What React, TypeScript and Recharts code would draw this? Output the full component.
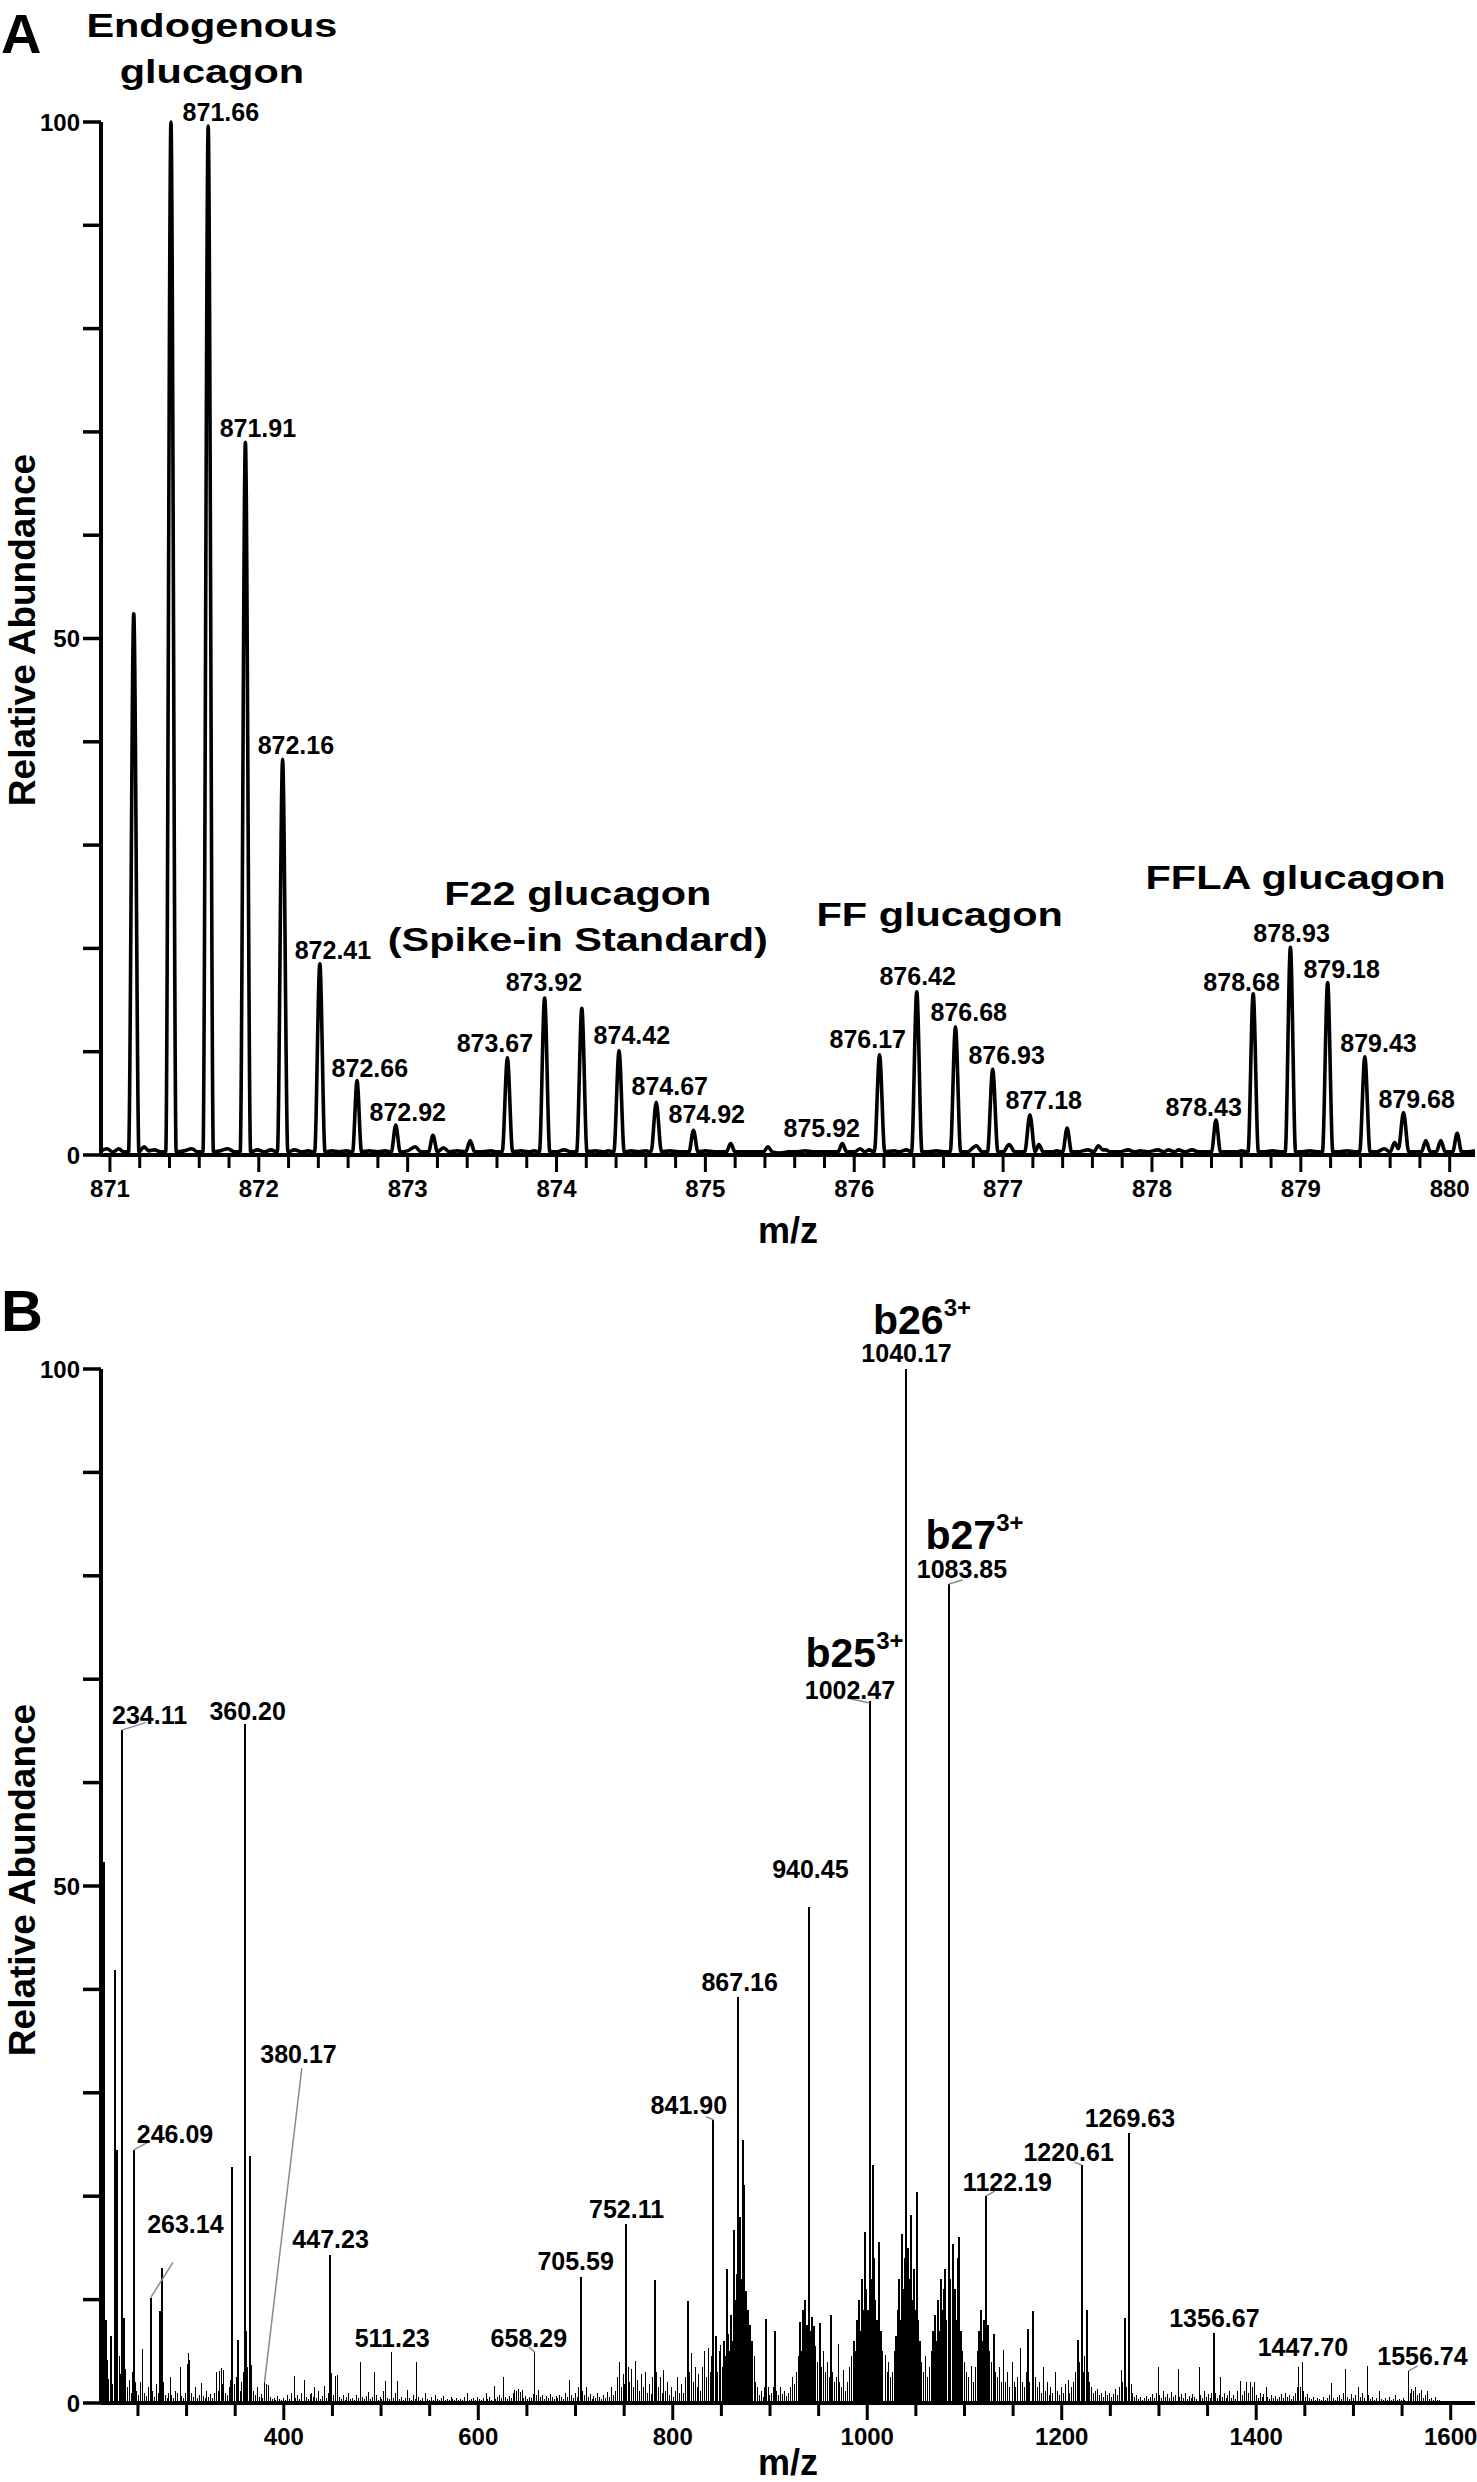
import React from 'react';
import { ComposedChart, Line, Bar, XAxis, YAxis, ReferenceDot, ReferenceLine } from 'recharts';

const FONT = '"Liberation Sans", Arial, Helvetica, sans-serif';

// ---------- Panel A: MS1 profile (m/z, relative abundance) ----------
const profileA: [number, number][] = [
  [870.94, 0.4], [870.98, 0.6], [871.02, 0.3], [871.06, 0.6], [871.09, 0.3],
  [871.125, 0.3], [871.16, 52.4], [871.195, 0.3], [871.23, 0.8], [871.26, 0.4], [871.3, 0.5], [871.34, 0.3],
  [871.375, 0.3], [871.41, 100], [871.445, 0.3], [871.5, 0.4], [871.55, 0.6], [871.59, 0.3],
  [871.625, 0.3], [871.66, 99.6], [871.695, 0.3], [871.74, 0.4], [871.79, 0.6], [871.84, 0.3],
  [871.875, 0.3], [871.91, 69.0], [871.945, 0.3], [871.99, 0.5], [872.04, 0.3], [872.08, 0.5],
  [872.125, 0.3], [872.16, 38.3], [872.195, 0.3], [872.24, 0.5], [872.29, 0.3], [872.33, 0.4],
  [872.375, 0.3], [872.41, 18.5], [872.445, 0.3], [872.49, 0.4], [872.54, 0.3], [872.59, 0.4],
  [872.63, 0.3], [872.66, 7.2], [872.69, 0.3], [872.74, 0.4], [872.8, 0.3], [872.85, 0.4],
  [872.89, 0.3], [872.92, 2.9], [872.95, 0.3], [873.0, 0.4], [873.05, 0.8], [873.09, 0.3],
  [873.14, 0.3], [873.17, 1.9], [873.2, 0.3], [873.24, 0.7], [873.28, 0.3], [873.33, 0.4],
  [873.39, 0.3], [873.42, 1.4], [873.45, 0.3], [873.5, 0.3], [873.56, 0.4], [873.6, 0.3],
  [873.635, 0.3], [873.67, 9.4], [873.705, 0.3], [873.76, 0.4], [873.81, 0.3], [873.85, 0.4],
  [873.885, 0.3], [873.92, 15.2], [873.955, 0.3], [874.0, 0.3], [874.05, 0.5], [874.1, 0.3],
  [874.135, 0.3], [874.17, 14.2], [874.205, 0.3], [874.26, 0.4], [874.31, 0.3], [874.35, 0.4],
  [874.385, 0.3], [874.42, 10.1], [874.455, 0.3], [874.5, 0.4], [874.55, 0.3], [874.6, 0.4],
  [874.635, 0.3], [874.67, 5.1], [874.705, 0.3], [874.76, 0.4], [874.82, 0.3], [874.86, 0.3],
  [874.89, 0.3], [874.92, 2.4], [874.95, 0.3], [875.0, 0.4], [875.06, 0.3], [875.1, 0.3],
  [875.14, 0.3], [875.17, 1.1], [875.2, 0.3], [875.26, 0.3], [875.32, 0.3], [875.37, 0.3],
  [875.39, 0.3], [875.42, 0.8], [875.45, 0.3], [875.5, 0.2], [875.56, 0.3], [875.62, 0.3],
  [875.67, 0.4], [875.72, 0.3], [875.8, 0.3], [875.85, 0.3],
  [875.89, 0.3], [875.92, 1.1], [875.95, 0.3], [876.0, 0.3], [876.04, 0.6], [876.07, 0.3], [876.1, 0.5],
  [876.135, 0.3], [876.17, 9.7], [876.205, 0.3], [876.27, 0.4], [876.3, 0.3], [876.35, 0.5],
  [876.385, 0.3], [876.42, 15.8], [876.455, 0.3], [876.5, 0.3], [876.55, 0.4], [876.6, 0.3],
  [876.645, 0.3], [876.68, 12.4], [876.715, 0.3], [876.76, 0.3], [876.82, 0.9], [876.86, 0.3],
  [876.895, 0.3], [876.93, 8.3], [876.965, 0.3], [877.0, 0.3], [877.04, 1.0], [877.08, 0.3],
  [877.145, 0.3], [877.18, 3.9], [877.215, 0.3], [877.24, 1.0], [877.27, 0.3], [877.33, 0.3], [877.36, 0.4],
  [877.4, 0.3], [877.43, 2.6], [877.46, 0.3], [877.5, 0.3], [877.57, 0.5], [877.61, 0.3],
  [877.64, 0.9], [877.67, 0.5], [877.69, 0.5], [877.72, 0.3], [877.78, 0.3], [877.84, 0.5],
  [877.88, 0.3], [877.92, 0.4], [877.97, 0.3], [878.04, 0.5], [878.08, 0.3], [878.11, 0.5],
  [878.15, 0.3], [878.18, 0.5], [878.22, 0.3], [878.27, 0.5], [878.31, 0.3], [878.36, 0.3],
  [878.4, 0.3], [878.43, 3.4], [878.46, 0.3], [878.52, 0.3], [878.57, 0.3], [878.6, 0.4],
  [878.645, 0.3], [878.68, 15.6], [878.715, 0.3], [878.76, 0.3], [878.81, 0.4], [878.86, 0.3],
  [878.895, 0.3], [878.93, 20.1], [878.965, 0.3], [879.01, 0.3], [879.06, 0.4], [879.11, 0.3],
  [879.145, 0.3], [879.18, 16.7], [879.215, 0.3], [879.26, 0.3], [879.31, 0.4], [879.36, 0.3],
  [879.395, 0.3], [879.43, 9.5], [879.465, 0.3], [879.51, 0.3], [879.56, 0.6], [879.6, 0.3],
  [879.63, 1.2], [879.655, 0.6], [879.69, 4.1], [879.725, 0.3], [879.77, 0.3], [879.81, 0.3],
  [879.84, 1.4], [879.87, 0.3], [879.91, 0.3], [879.94, 1.4], [879.97, 0.3], [880.0, 0.3],
  [880.02, 0.3], [880.05, 2.1], [880.08, 0.3], [880.12, 0.3], [880.17, 0.4],
];

// label text, label centre m/z, label centre abundance
const peakLabelsA: [string, number, number][] = [
  ['871.66', 871.745, 101.0], ['871.91', 871.994, 70.4], ['872.16', 872.249, 39.7],
  ['872.41', 872.498, 19.8], ['872.66', 872.746, 8.4], ['872.92', 873.001, 4.2],
  ['873.67', 873.586, 10.8], ['873.92', 873.915, 16.7], ['874.42', 874.506, 11.6],
  ['874.67', 874.761, 6.7], ['874.92', 875.009, 4.0], ['875.92', 875.782, 2.6],
  ['876.17', 876.091, 11.2], ['876.42', 876.426, 17.3], ['876.68', 876.769, 13.8],
  ['876.93', 877.024, 9.7], ['877.18', 877.273, 5.3], ['878.43', 878.347, 4.6],
  ['878.68', 878.602, 16.7], ['878.93', 878.938, 21.5], ['879.18', 879.274, 18.0],
  ['879.43', 879.522, 10.8], ['879.68', 879.778, 5.4],
];

const groupTitlesA: { lines: string[]; mz: number; ab: number }[] = [
  { lines: ['Endogenous', 'glucagon'], mz: 871.685, ab: 109.4 },
  { lines: ['F22 glucagon', '(Spike-in Standard)'], mz: 874.143, ab: 25.3 },
  { lines: ['FF glucagon'], mz: 876.574, ab: 23.3 },
  { lines: ['FFLA glucagon'], mz: 878.965, ab: 26.9 },
];

// ---------- Panel B: MS2 centroid spectrum ----------
const sticksB: [number, number][] = [
  [213, 3.0], [215.4, 52.3], [217, 8.0], [218.6, 4.2], [220, 2.3], [222, 6.5], [224, 1.8], [226, 41.9],
  [227.5, 3.7], [229, 24.5], [231, 4.5], [232.5, 2.8], [234.11, 65.1], [235.5, 8.2], [237, 3.3], [239, 1.5],
  [241, 2.2], [243, 1.0], [244.5, 3.0], [246.09, 24.5], [247.5, 2.0], [249, 1.2], [251, 0.8], [253, 2.0],
  [255.2, 5.2], [257, 1.0], [259, 0.7], [261, 1.5], [263.14, 10.2], [265, 1.2], [267, 0.6], [269, 1.8],
  [271, 1.0], [272.7, 8.9], [274.8, 13.1], [276.5, 2.0], [278, 0.8], [280, 0.5], [281.5, 1.0], [283, 2.5],
  [285, 0.8], [287, 0.5], [289, 1.2], [291, 1.0], [293.3, 3.5], [295, 0.7], [297, 0.5], [299, 1.0],
  [300.5, 3.8], [302, 4.8], [303.5, 4.2], [305, 1.0], [307, 0.6], [309, 1.5], [311, 0.5], [313, 0.8],
  [315, 1.9], [317, 0.7], [319, 0.5], [321, 1.2], [323, 0.6], [325, 0.9], [327, 0.5], [329, 1.0],
  [331, 3.0], [332.5, 1.2], [334, 3.1], [335.5, 3.4], [337, 1.8], [338.5, 3.2], [340, 1.0], [342, 0.8],
  [344, 1.5], [345.5, 2.2], [347, 22.8], [349, 1.8], [351, 2.5], [353.4, 6.1], [355, 1.2], [357, 2.0],
  [358.5, 3.0], [360.2, 65.7], [361.5, 7.0], [363, 3.5], [365.6, 23.9], [367, 3.7], [369, 1.2], [371, 0.8],
  [373, 1.5], [375, 0.6], [377, 0.9], [378.5, 0.5], [380.17, 2.0], [382, 1.8], [384, 1.7], [386, 0.6],
  [388, 0.4], [390, 0.5], [392, 0.3], [394, 0.7], [396, 0.4], [398, 0.3],
  [400, 0.5], [402, 0.3], [404, 0.8], [406, 0.4], [408, 1.0], [410.6, 2.6], [412, 0.5], [414, 0.8],
  [416, 0.4], [418, 1.0], [421, 2.2], [423, 0.6], [425, 0.4], [427, 0.9], [429, 1.0], [431, 0.6],
  [432, 1.5], [434, 0.5], [436, 1.2], [438, 0.4], [440, 0.7], [442, 1.6], [444, 0.5], [446, 1.0],
  [447.23, 14.3], [449, 2.9], [451, 0.8], [453, 2.6], [455, 2.7], [457, 0.6], [459, 0.4], [461, 0.8],
  [463, 0.3], [465, 0.6], [467, 1.0], [469, 0.4], [471, 0.5], [473, 0.3], [475, 0.8], [477, 0.5],
  [479, 4.0], [481, 0.6], [483, 0.4], [485, 0.7], [487, 1.1], [489, 0.4], [491, 0.6], [493.7, 3.0],
  [495, 0.8], [497, 0.3], [499, 0.6], [501, 0.4], [503, 1.2], [505, 2.1], [507, 0.5], [509, 0.4],
  [511.23, 4.9], [513, 0.5], [515, 1.0], [517, 2.1], [519, 0.4], [521, 0.6], [523, 0.3], [525, 0.5],
  [527, 1.3], [529, 0.5], [531, 0.3], [533, 0.8], [535, 0.4], [536.9, 4.0], [539, 0.6], [541, 0.3],
  [543, 0.5], [546, 1.0], [548, 0.4], [550, 0.3], [552, 0.6], [554, 0.3], [556, 0.8], [558, 0.4],
  [560, 0.3], [562, 0.5], [564, 0.7], [566, 0.3], [568, 0.4], [570, 0.3], [572, 0.6], [574, 0.4],
  [576, 0.3], [578, 0.5], [580, 0.3], [582, 0.4], [584, 0.3], [586, 0.6], [589, 1.0], [591, 0.3],
  [593, 0.4], [595, 0.5], [597, 0.3], [599, 0.6], [601, 0.4], [603, 0.3], [605, 0.5], [608, 1.0],
  [610, 0.4], [612, 0.6], [614, 0.3], [616.6, 1.6], [618, 0.4], [620, 0.6],
  [622, 0.8], [624, 0.5], [626, 2.5], [628, 0.6], [630, 0.4], [632, 0.7], [634, 0.5], [636, 1.0],
  [637, 1.3], [639, 1.2], [641, 1.4], [643, 1.1], [645, 1.3], [647, 0.5], [649, 0.7], [651, 0.4],
  [653, 0.6], [655, 0.5], [656.5, 0.9], [658.29, 4.9], [660, 0.8], [662, 1.3], [664, 0.6], [666, 0.8],
  [668, 0.4], [670, 0.7], [672, 0.5], [674, 0.9], [676, 0.6], [678, 0.4], [680, 0.7], [682, 0.5],
  [684, 0.8], [686, 0.6], [688, 0.4], [690, 1.0], [692, 0.6], [694, 2.2], [696, 0.8], [698, 0.5],
  [700, 1.0], [702, 0.6], [703.5, 1.5], [705.59, 12.2], [707, 1.2], [709, 0.8], [711, 1.5], [713, 0.6],
  [715, 0.9], [717, 0.4], [719, 0.7], [721, 0.5], [723, 1.0], [725, 0.6], [727, 0.4], [729, 0.8],
  [731, 0.5], [733, 1.1], [735, 0.6], [737, 1.5], [739, 0.8], [741, 1.2], [743, 2.5], [745, 4.0],
  [747, 1.5], [749, 2.8], [750.5, 1.8], [752.11, 17.3], [754, 3.5], [756, 2.0], [758, 3.3], [760, 1.5],
  [762, 4.1], [764, 2.2], [766, 1.2], [768, 2.8], [770, 1.5], [772, 3.0], [774, 1.0], [776, 1.8],
  [778, 0.9], [779.5, 2.5], [781.5, 11.9], [783, 3.0], [785, 1.5], [787, 2.5], [789, 1.0], [791, 3.2],
  [793, 1.2], [795, 2.0], [797, 0.8], [799, 1.5], [801, 0.6], [803, 1.2], [805, 2.5], [807, 1.0],
  [809, 1.8], [811, 1.0], [813, 2.5], [815.5, 9.9], [817, 3.0], [819, 4.8], [821, 2.0], [823, 3.5],
  [825, 1.5], [827, 2.8], [829, 1.2],
  [831, 3.5], [833, 5.0], [834.5, 2.5], [836.8, 5.3], [838.5, 3.0], [840, 4.5], [841.9, 27.4], [843.5, 4.0],
  [845, 6.5], [846.5, 3.0], [848, 5.0], [849.5, 5.6], [851, 3.5], [852.5, 6.0], [854, 4.5], [855.5, 13.0],
  [857.2, 6.7], [858.5, 5.0], [860, 8.5], [861.5, 6.0], [863, 16.7], [864.5, 10.0], [866, 12.5], [867.16, 39.3],
  [868.5, 14.0], [869.5, 18.0], [870.5, 12.0], [871.5, 9.0], [872.7, 25.4], [873.5, 21.1], [874.5, 8.0],
  [875.5, 10.8], [876.5, 7.0], [877.5, 9.0], [878.5, 5.5], [879.5, 7.5], [880.5, 4.0], [881.5, 6.0],
  [882.5, 3.0], [884, 4.5], [885.5, 2.0], [887, 1.5], [889, 0.8], [891, 1.2], [893, 0.6], [894.5, 1.5],
  [896.4, 8.1], [898, 1.5], [900, 0.8], [902, 1.0], [903.5, 1.5], [905.6, 7.0], [907, 1.2], [909, 0.8],
  [911, 1.5], [913, 0.9], [915, 1.2], [917, 0.7], [919, 1.0], [921, 1.5], [923, 2.5], [925, 1.8],
  [927, 3.0], [929, 4.5], [930.8, 7.8], [932, 5.0], [933.7, 9.0], [935.7, 10.0], [937, 6.0], [938.5, 7.5],
  [940.45, 48.0], [942, 7.0], [943.5, 8.3], [945.4, 7.4], [947, 5.5], [949, 4.0], [951.5, 7.7], [953, 3.5],
  [955, 5.0], [957, 3.0], [959, 4.0], [961, 2.5], [962.7, 8.5], [964.5, 3.0], [966, 2.0], [968, 2.5],
  [970.4, 5.7], [972, 2.0], [974, 1.5], [976, 3.2], [978, 1.2], [980, 2.0], [982, 3.5], [984, 4.5],
  [986, 6.0], [988, 5.0], [990, 8.0], [991.5, 10.0], [993, 7.0], [994.5, 12.0], [996, 9.0], [997.7, 16.5],
  [999, 11.0], [1000.5, 9.0], [1002.47, 67.9], [1004, 12.0], [1005.5, 23.0], [1007, 14.0], [1008.5, 10.0],
  [1010, 8.0], [1012.3, 15.6], [1014, 7.0], [1016, 5.0], [1018.8, 4.6], [1020.5, 3.0], [1022, 4.0],
  [1024, 2.5], [1026, 3.0], [1028, 5.0], [1030, 6.5], [1031.5, 9.0], [1033, 12.0], [1034, 8.0],
  [1035.5, 16.3], [1037, 11.0], [1038.5, 14.0], [1040.17, 100], [1041.5, 15.0], [1043, 12.0], [1045.2, 18.2],
  [1046.5, 10.0], [1048, 13.0], [1049.5, 9.0], [1051, 20.4], [1052.5, 8.0], [1054, 6.0], [1056, 4.0],
  [1058, 3.0], [1060, 4.5], [1062, 2.5], [1064, 3.5], [1066, 5.0], [1068, 7.0], [1070, 8.5], [1071.5, 6.0],
  [1073, 10.0], [1074.5, 7.0], [1076, 12.0], [1077.5, 9.0], [1079, 11.0], [1080.1, 13.0], [1081.5, 8.0],
  [1083.85, 79.2], [1085.5, 12.0], [1087.9, 15.4], [1089, 9.0], [1090.5, 11.0], [1092, 8.0], [1093.5, 14.0],
  [1094.7, 16.1], [1096, 7.0], [1098, 5.0], [1100, 4.0], [1102, 3.0], [1104, 2.5], [1107, 3.6], [1109, 2.0],
  [1111, 3.5], [1113, 5.0], [1115, 7.0], [1117, 9.0], [1119, 6.0], [1120.5, 8.0], [1122.19, 20.0],
  [1124, 7.5], [1126, 5.0], [1128, 4.0], [1130, 6.7], [1132, 3.0], [1134, 2.5], [1136, 3.5], [1138, 2.0],
  [1140, 5.1], [1142, 2.0], [1144, 3.0], [1146, 1.5], [1149, 4.0], [1151, 2.0], [1153, 1.5], [1155, 2.5],
  [1158, 5.3], [1160, 2.0], [1162, 1.5], [1163.5, 3.0], [1165.7, 7.2], [1167, 2.0], [1170.8, 8.9],
  [1173, 2.5], [1175, 1.5], [1177, 2.0], [1179, 1.0], [1181, 3.5], [1183, 1.2], [1185, 2.0], [1187, 0.8],
  [1189, 1.5], [1191, 1.0], [1193.8, 3.0], [1196, 1.2], [1198, 0.8], [1200, 1.5], [1202, 1.0], [1204, 1.8],
  [1206.5, 2.2], [1208, 1.0], [1210, 1.5], [1212, 2.0], [1214, 3.0], [1216.7, 6.1], [1218.5, 4.0],
  [1220.61, 23.0], [1222, 3.0], [1223.5, 4.5], [1225.9, 9.0], [1227.5, 3.0], [1229, 2.0], [1231, 1.5],
  [1233, 1.0], [1235, 1.2], [1237, 1.4], [1239, 0.8], [1241, 1.0], [1243, 0.6], [1245, 1.2], [1247, 0.8],
  [1249, 1.0], [1251, 0.6], [1253, 0.9], [1255, 1.4], [1257, 0.8], [1259, 1.5], [1261.6, 3.2], [1263, 2.0],
  [1265, 8.2], [1267, 1.5], [1269.63, 26.1], [1271.5, 1.8], [1273, 1.0], [1275, 0.6], [1277, 0.8],
  [1279, 0.4], [1281, 0.6], [1283, 0.3], [1285, 0.5], [1287, 0.7], [1289, 0.4], [1291, 0.6], [1293, 0.9],
  [1295, 0.5], [1297, 1.0], [1299.3, 3.5], [1301, 0.8], [1303, 0.5], [1305, 1.2], [1307, 0.6], [1309, 0.9],
  [1311, 0.5], [1313, 1.1], [1315, 0.6], [1317, 0.8], [1319.7, 3.3], [1321, 0.6], [1323, 0.9], [1325, 0.5],
  [1327, 1.0], [1329, 0.4], [1331, 0.7], [1333, 0.5], [1335, 0.9], [1337, 0.6], [1339, 0.4], [1341.7, 3.5],
  [1343, 0.8], [1345, 0.5], [1347, 1.2], [1349, 0.6], [1351, 0.9], [1353, 0.5], [1354.5, 1.0],
  [1356.67, 6.8], [1358, 1.0], [1360, 0.5], [1362, 0.8], [1363.6, 2.5], [1365, 0.6], [1367, 1.0],
  [1369, 0.5], [1371, 0.8], [1373, 1.2], [1375, 0.5], [1377, 0.8], [1379, 0.4], [1381, 1.2], [1384, 2.1],
  [1386, 0.8], [1388, 1.2], [1390, 2.0], [1392, 1.0], [1394, 2.0], [1396, 1.5], [1398, 2.0], [1400, 0.8],
  [1402, 0.5], [1404, 1.0], [1406, 0.6], [1408, 0.9], [1410.5, 1.5], [1412, 0.6], [1414, 0.4], [1416, 0.8],
  [1418, 0.5], [1420, 0.7], [1422, 0.4], [1424, 0.6], [1426, 0.9], [1428, 0.5], [1430, 1.0], [1432, 0.6],
  [1434, 0.8], [1436, 0.4], [1438, 0.7], [1440, 1.0], [1442, 1.5], [1443.7, 3.5], [1445.5, 1.5],
  [1447.7, 4.0], [1449, 1.2], [1451, 0.6], [1453, 0.9], [1455, 0.5], [1457, 0.4], [1459, 0.6], [1461, 0.3],
  [1463, 0.5], [1465, 0.4], [1467, 0.3], [1469, 0.6], [1471, 0.3], [1473, 0.5], [1475, 0.8], [1477.8, 1.9],
  [1480, 0.5], [1482, 0.3], [1484, 0.6], [1486, 0.8], [1488, 0.4], [1490, 1.0], [1492.1, 3.3], [1494, 0.6],
  [1496, 0.4], [1498, 0.9], [1500, 0.5], [1502, 0.8], [1504.9, 1.5], [1507, 0.6], [1509, 1.0], [1511, 0.5],
  [1514, 3.6], [1516, 0.8], [1518, 0.4], [1520, 0.6], [1522, 0.3], [1524, 0.5], [1526.8, 1.2], [1529, 0.4],
  [1531, 0.3], [1533, 0.5], [1535, 0.3], [1537, 0.6], [1539, 0.3], [1541, 0.4], [1543, 0.8], [1545, 0.3],
  [1547, 0.4], [1549, 0.3], [1551, 0.5], [1553, 0.3], [1556.74, 3.1], [1558.5, 1.0], [1560, 1.4],
  [1562, 1.2], [1564, 1.5], [1566, 0.8], [1568, 1.0], [1570, 1.3], [1572, 0.5], [1574, 0.8], [1576, 1.2],
  [1578, 0.4], [1580, 0.5], [1582, 0.3], [1584, 0.6], [1586, 0.3], [1589, 0.3],
];

const peakLabelsB: [string, number, number][] = [
  ['234.11', 262.0, 66.5], ['360.20', 362.8, 66.9], ['246.09', 288.1, 26.0], ['263.14', 298.8, 17.3],
  ['380.17', 415.1, 33.8], ['447.23', 448.1, 15.9], ['511.23', 511.5, 6.3], ['658.29', 652.0, 6.3],
  ['705.59', 700.1, 13.7], ['752.11', 752.5, 18.8], ['841.90', 816.5, 28.8], ['867.16', 868.8, 40.7],
  ['940.45', 941.5, 51.6], ['1002.47', 982.2, 69.0], ['1040.17', 1040.4, 101.5], ['1083.85', 1097.4, 80.7],
  ['1122.19', 1144.1, 21.4], ['1220.61', 1207.1, 24.3], ['1269.63', 1270.1, 27.6], ['1356.67', 1357.0, 8.2],
  ['1447.70', 1448.0, 5.4], ['1556.74', 1571.0, 4.5],
];

const ionLabelsB: [string, number, number][] = [
  ['b26', 1056.3, 104.7], ['b27', 1110.3, 83.9], ['b25', 986.9, 72.5],
];

// gray leader lines: from peak top to shifted label
const leadersB: [number, number, number, number][] = [
  [234.11, 65.1, 258, 65.8], [246.09, 24.5, 262, 25.3], [263.14, 10.2, 286, 13.6],
  [380.17, 2.0, 418.5, 32.4], [658.29, 4.9, 652, 5.4], [841.9, 27.4, 834, 27.7],
  [1002.47, 67.7, 982.5, 68.1], [1083.85, 79.2, 1098, 79.6], [1122.19, 20.0, 1131, 20.5],
  [1220.61, 23.0, 1213, 23.3], [1556.74, 3.1, 1566, 3.6],
];

const yTicks = [0, 10, 20, 30, 40, 50, 60, 70, 80, 90, 100];
const ticksA = Array.from({ length: 46 }, (_, i) => +(871 + i * 0.2).toFixed(1));
const ticksB = Array.from({ length: 28 }, (_, i) => 250 + i * 50);

const profileRows = profileA.map(([mz, ab]) => ({ mz, ab }));
const stickRows = sticksB.map(([mz, ab]) => ({ mz, ab }));

const txt = { fontFamily: FONT, fontWeight: 700, fill: '#000' } as const;

const xTick = (isMajor: (v: number) => boolean) => (p: any) => {
  const v = p.payload.value;
  const major = isMajor(v);
  return (
    <g>
      <line x1={p.x} x2={p.x} y1={p.y} y2={p.y + (major ? 17 : 13)} stroke="#000" strokeWidth={3} />
      {major && (
        <text x={p.x} y={p.y + 33} textAnchor="middle" dominantBaseline="central" fontSize={24} {...txt}>
          {v}
        </text>
      )}
    </g>
  );
};

const yTick = (p: any) => {
  const v = p.payload.value;
  return (
    <g>
      <line x1={p.x - 18} x2={p.x} y1={p.y} y2={p.y} stroke="#000" strokeWidth={3.5} />
      {v % 50 === 0 && (
        <text x={p.x - 21} y={p.y} textAnchor="end" dominantBaseline="central" fontSize={24} {...txt}>
          {v}
        </text>
      )}
    </g>
  );
};

// crisp black stick centred on the bar slot; larger peaks drawn a bit heavier
const stickShape = (p: any) => {
  const top = Math.round(p.y);
  const bottom = Math.round(p.y + p.height);
  const w = p.payload && p.payload.ab >= 6 ? 2 : 1;
  return (
    <rect
      x={Math.round(p.x + p.width / 2 - w / 2)}
      y={top}
      width={w}
      height={Math.max(0, bottom - top)}
      fill="#000"
      shapeRendering="crispEdges"
    />
  );
};

const labelShape = (t: string) => (p: any) => (
  <text x={p.cx} y={p.cy} textAnchor="middle" dominantBaseline="central" fontSize={25} {...txt}>
    {t}
  </text>
);

const titleShape = (lines: string[]) => (p: any) => (
  <g transform={`translate(${p.cx},${p.cy}) scale(1.22,1)`}>
    {lines.map((l, i) => (
      <text key={i} x={0} y={i * 46} textAnchor="middle" dominantBaseline="central" fontSize={34} {...txt}>
        {l}
      </text>
    ))}
  </g>
);

const ionShape = (ion: string) => (p: any) => (
  <text x={p.cx} y={p.cy} textAnchor="middle" dominantBaseline="central" fontSize={41} {...txt}>
    {ion}
    <tspan fontSize={24} dy={-13}>3+</tspan>
  </text>
);

const isIntTick = (v: number) => Math.abs(v - Math.round(v)) < 1e-6;

export default function App() {
  return (
    <div style={{ position: 'relative', width: 1477, height: 2482, background: '#fff' }}>
      <style>{'body{margin:0;background:#fff}'}</style>

      <div style={{ position: 'absolute', left: 0, top: 0 }}>
        <ComposedChart width={1477} height={1262} data={profileRows} margin={{ top: 122, right: 2, bottom: 47, left: 41 }}>
          <XAxis
            type="number"
            dataKey="mz"
            domain={[870.94, 880.17]}
            ticks={ticksA}
            interval={0}
            tickSize={0}
            tickMargin={0}
            tickLine={false}
            tick={xTick(isIntTick)}
            axisLine={{ stroke: '#000', strokeWidth: 4 }}
            height={60}
          />
          <YAxis
            type="number"
            domain={[0, 100]}
            ticks={yTicks}
            interval={0}
            tickSize={0}
            tickMargin={0}
            tickLine={false}
            tick={yTick}
            axisLine={{ stroke: '#000', strokeWidth: 4 }}
            width={60}
          />
          <Line
            type="monotone"
            dataKey="ab"
            stroke="#000"
            strokeWidth={3.6}
            strokeLinejoin="round"
            dot={false}
            activeDot={false}
            isAnimationActive={false}
          />
          {peakLabelsA.map(([t, mz, ab]) => (
            <ReferenceDot key={t} x={mz} y={ab} r={0} ifOverflow="visible" shape={labelShape(t)} />
          ))}
          {groupTitlesA.map((g) => (
            <ReferenceDot key={g.lines[0]} x={g.mz} y={g.ab} r={0} ifOverflow="visible" shape={titleShape(g.lines)} />
          ))}
        </ComposedChart>
      </div>

      <div style={{ position: 'absolute', left: 0, top: 1262 }}>
        <ComposedChart width={1477} height={1220} data={stickRows} margin={{ top: 107, right: 2, bottom: 19, left: 41 }}>
          <XAxis
            type="number"
            dataKey="mz"
            domain={[212, 1625]}
            ticks={ticksB}
            interval={0}
            tickSize={0}
            tickMargin={0}
            tickLine={false}
            tick={xTick((v) => v % 200 === 0)}
            axisLine={{ stroke: '#000', strokeWidth: 4 }}
            height={60}
          />
          <YAxis
            type="number"
            domain={[0, 100]}
            ticks={yTicks}
            interval={0}
            tickSize={0}
            tickMargin={0}
            tickLine={false}
            tick={yTick}
            axisLine={{ stroke: '#000', strokeWidth: 4 }}
            width={60}
          />
          <Bar dataKey="ab" fill="#000" barSize={2} shape={stickShape} isAnimationActive={false} />
          {leadersB.map(([x1, y1, x2, y2]) => (
            <ReferenceLine
              key={`${x1}`}
              segment={[{ x: x1, y: y1 }, { x: x2, y: y2 }]}
              stroke="#8a8a8a"
              strokeWidth={1.5}
              ifOverflow="visible"
            />
          ))}
          {peakLabelsB.map(([t, mz, ab]) => (
            <ReferenceDot key={t} x={mz} y={ab} r={0} ifOverflow="visible" shape={labelShape(t)} />
          ))}
          {ionLabelsB.map(([t, mz, ab]) => (
            <ReferenceDot key={t} x={mz} y={ab} r={0} ifOverflow="visible" shape={ionShape(t)} />
          ))}
        </ComposedChart>
      </div>

      <svg width={1477} height={2482} style={{ position: 'absolute', left: 0, top: 0, pointerEvents: 'none' }}>
        <text x={1} y={53} fontSize={56} {...txt}>A</text>
        <text x={1} y={1331} fontSize={58} {...txt}>B</text>
        <text transform="translate(35,630) rotate(-90)" textAnchor="middle" fontSize={37} {...txt}>Relative Abundance</text>
        <text transform="translate(35,1880) rotate(-90)" textAnchor="middle" fontSize={37} {...txt}>Relative Abundance</text>
        <text x={788} y={1243} textAnchor="middle" fontSize={36} {...txt}>m/z</text>
        <text x={788} y={2475} textAnchor="middle" fontSize={36} {...txt}>m/z</text>
      </svg>
    </div>
  );
}
